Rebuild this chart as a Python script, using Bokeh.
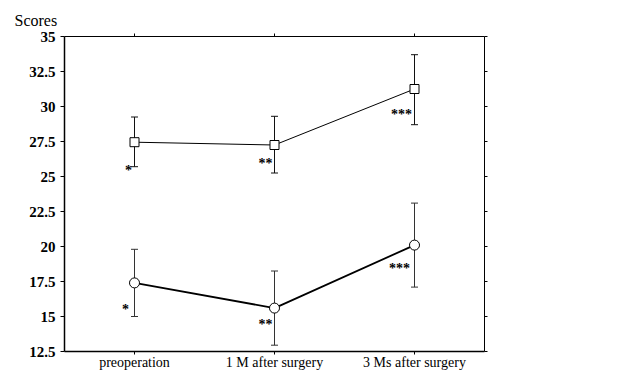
from bokeh.plotting import figure
from bokeh.layouts import row
from bokeh.models import (FactorRange, Range1d, FixedTicker, ColumnDataSource, Whisker,
                          TeeHead, Legend, LegendItem, CategoricalAxis, LinearAxis)
from bokeh.core.properties import value
from bokeh.embed import file_html
from bokeh.resources import INLINE

categories = ["preoperation", "1 M after surgery", "3 Ms after surgery"]
heavy_mean = [17.4, 15.6, 20.1]
heavy_upper = [19.8, 18.25, 23.1]
heavy_lower = [15.0, 12.95, 17.1]
non_mean = [27.45, 27.25, 31.25]
non_upper = [29.25, 29.3, 33.7]
non_lower = [25.7, 25.25, 28.7]
y_ticks = [12.5, 15, 17.5, 20, 22.5, 25, 27.5, 30, 32.5, 35]
y_tick_labels = ["12.5", "15", "17.5", "20", "22.5", "25", "27.5", "30", "32.5", "35"]
heavy_sig = ["*", "**", "***"]
non_sig = ["*", "**", "***"]
heavy_sig_y = [15.8, 14.7, 18.7]
non_sig_y = [25.75, 26.2, 29.7]
series_names = ["Heavy smokers", "Non-smokers"]

SERIF = "Liberation Serif"

p = figure(width=488, height=371, frame_width=420, frame_height=315,
           output_backend="svg", toolbar_location=None,
           x_range=FactorRange(factors=categories, range_padding=0),
           y_range=Range1d(12.5, 35),
           min_border_left=64, min_border_right=4, min_border_top=36, min_border_bottom=20)
p.xgrid.visible = False
p.ygrid.visible = False
p.outline_line_color = None
p.background_fill_color = "white"

p.title.text = "Scores"
p.title.text_font = SERIF
p.title.text_font_size = "16px"
p.title.text_font_style = "normal"
p.title.text_color = "black"
p.title.align = "left"
p.title.offset = -50
p.title.standoff = 10

p.yaxis.ticker = FixedTicker(ticks=y_ticks)
p.yaxis.major_label_overrides = {t: l for t, l in zip(y_ticks, y_tick_labels)}
p.yaxis.major_label_text_font = SERIF
p.yaxis.major_label_text_font_style = "bold"
p.yaxis.major_label_text_font_size = "15px"
p.yaxis.major_label_text_color = "black"
p.yaxis.major_tick_out = 4
p.yaxis.major_tick_in = 0
p.yaxis.minor_tick_out = 0
p.yaxis.minor_tick_in = 0
p.yaxis.axis_line_width = 1.5
p.yaxis.major_label_standoff = 5

p.xaxis.major_label_text_font = SERIF
p.xaxis.major_label_text_font_size = "14px"
p.xaxis.major_label_text_color = "black"
p.xaxis.major_tick_out = 3
p.xaxis.major_tick_in = 0
p.xaxis.axis_line_width = 1.5
p.xaxis.major_label_standoff = 0

top = CategoricalAxis(major_label_text_color=None, major_label_text_font_size="1px",
                      major_tick_out=3, major_tick_in=0,
                      major_label_standoff=0, axis_line_width=1)
p.add_layout(top, "above")
right = LinearAxis(ticker=FixedTicker(ticks=y_ticks),
                   major_label_text_color=None, major_label_text_font_size="1px",
                   major_tick_out=3, major_tick_in=0, minor_tick_out=0, minor_tick_in=0,
                   major_label_standoff=0, axis_line_width=1)
p.add_layout(right, "right")

src_h = ColumnDataSource(dict(x=categories, y=heavy_mean, up=heavy_upper, lo=heavy_lower,
                              sig=heavy_sig, sy=heavy_sig_y, off=[-9, -9, -15]))
src_n = ColumnDataSource(dict(x=categories, y=non_mean, up=non_upper, lo=non_lower,
                              sig=non_sig, sy=non_sig_y, off=[-6, -9, -13]))

for src, col in ((src_h, "#333333"), (src_n, "#111111")):
    w = Whisker(source=src, base="x", upper="up", lower="lo", line_color=col, line_width=1,
                upper_head=TeeHead(size=7, line_color=col, line_width=1),
                lower_head=TeeHead(size=7, line_color=col, line_width=1))
    p.add_layout(w)

p.line("x", "y", source=src_h, line_color="black", line_width=1.8)
p.scatter("x", "y", source=src_h, marker="circle", size=10, fill_color="white",
          line_color="black", line_width=1)
p.line("x", "y", source=src_n, line_color="black", line_width=1)
p.scatter("x", "y", source=src_n, marker="square", size=9, fill_color="white",
          line_color="black", line_width=1)

for src in (src_h, src_n):
    p.text("x", "sy", text="sig", source=src, x_offset="off", y_offset=4,
           text_font=value(SERIF), text_font_style="bold", text_font_size="14px",
           text_align="center", text_baseline="middle", text_color="black")

# legend panel: same series styles, drawn in a side figure whose view holds no data
q = figure(width=125, height=371, frame_width=125, frame_height=371,
           output_backend="svg", toolbar_location=None,
           x_range=FactorRange(factors=categories, range_padding=0),
           y_range=Range1d(100, 101),
           min_border_left=0, min_border_right=0, min_border_top=0, min_border_bottom=0,
           x_axis_type=None, y_axis_type=None)
q.xgrid.visible = False
q.ygrid.visible = False
q.outline_line_color = None
q.background_fill_color = "white"
qlh = q.line("x", "y", source=src_h, line_color="black", line_width=1.4)
qmh = q.scatter("x", "y", source=src_h, marker="circle", size=9, fill_color="white",
                line_color="black", line_width=1)
qln = q.line("x", "y", source=src_n, line_color="black", line_width=1)
qmn = q.scatter("x", "y", source=src_n, marker="square", size=8, fill_color="white",
                line_color="black", line_width=1)

legend = Legend(items=[LegendItem(label=series_names[0], renderers=[qlh, qmh]),
                       LegendItem(label=series_names[1], renderers=[qln, qmn])],
                location=(9, 163), padding=0, margin=0, border_line_color=None,
                background_fill_alpha=0, label_text_font=SERIF, label_text_font_size="12px",
                label_text_color="black",
                glyph_width=26, glyph_height=14, label_height=14, label_standoff=12, spacing=3)
q.add_layout(legend)

open("out.html", "w").write(file_html(row(p, q), INLINE))
